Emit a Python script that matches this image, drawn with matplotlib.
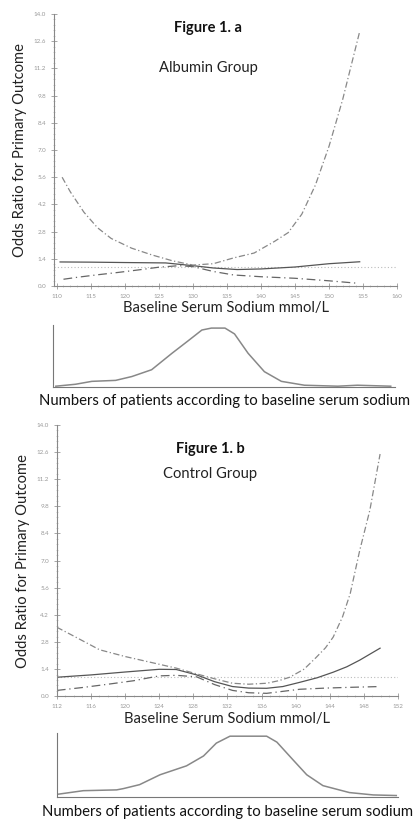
import numpy as np
import matplotlib.pyplot as plt
from matplotlib.ticker import MultipleLocator

plt.rcParams['font.family'] = ['Lato', 'DejaVu Sans']

# Figure 1a - albumin group (odds ratio with confidence limits)
alb_x = [110.5, 115, 120, 126, 130, 133, 136.5, 140, 145, 150, 154.5]
alb_or = [1.24, 1.23, 1.21, 1.19, 1.05, 0.93, 0.85, 0.88, 0.98, 1.15, 1.25]
alb_up_x = [110.8, 112, 114, 116, 118, 121, 124, 127, 130, 133, 136, 139,
            142, 144, 146, 148, 150, 152, 153.5, 154.5]
alb_up = [5.6, 4.85, 3.8, 3.0, 2.45, 1.95, 1.6, 1.3, 1.08, 1.15, 1.45, 1.7,
          2.3, 2.75, 3.7, 5.2, 7.2, 9.6, 11.7, 13.1]
alb_lo_x = [111, 113, 116, 119, 122, 125, 128, 130, 133, 136, 140, 145, 150, 154]
alb_lo = [0.35, 0.45, 0.58, 0.7, 0.83, 0.97, 1.05, 1.0, 0.75, 0.57, 0.48, 0.4, 0.27, 0.15]

# patients distribution, albumin group (relative counts)
alb_hist_x = [110.0, 112.9, 115.3, 118.8, 121.2, 124.1, 127.1, 129.5, 131.5,
              132.9, 134.9, 136.3, 138.3, 140.7, 143.2, 146.6, 151.5, 154.4, 159.3]
alb_hist = [0, 2, 5, 6, 10, 17, 34, 47, 58, 60, 60, 54, 34, 15, 5, 1, 0, 1, 0]

# Figure 1b - control group
ctl_x = [112, 116, 120, 124, 126, 128.4, 130.5, 132.6, 134.5, 136.6, 138.5,
         140.5, 142.5, 144.4, 146, 147.5, 149.9]
ctl_or = [0.98, 1.1, 1.25, 1.39, 1.38, 1.1, 0.75, 0.5, 0.42, 0.41, 0.5,
          0.72, 0.95, 1.24, 1.52, 1.86, 2.48]
ctl_up_x = [112, 114, 117, 120, 123, 126, 128, 130.5, 132.6, 134.5, 136.6, 138,
            139.3, 141, 142.4, 143.5, 144.4, 145.5, 146.4, 147.5, 148.7, 149.9]
ctl_up = [3.56, 3.1, 2.4, 2.05, 1.75, 1.45, 1.2, 0.9, 0.67, 0.62, 0.67, 0.8,
          0.98, 1.4, 2.0, 2.5, 3.05, 4.1, 5.3, 7.5, 9.6, 12.5]
ctl_lo_x = [112, 115, 118, 121, 124, 126, 128.4, 130.5, 132.6, 134.5, 136.6,
            140.5, 143.5, 146.4, 149.9]
ctl_lo = [0.3, 0.45, 0.62, 0.8, 1.05, 1.08, 1.0, 0.6, 0.3, 0.18, 0.15,
          0.36, 0.42, 0.46, 0.5]

ctl_hist_x = [112.2, 115.1, 119.0, 119.8, 121.7, 124.1, 127.2, 129.2, 130.7,
              132.3, 136.6, 137.8, 139.7, 141.3, 143.2, 146.3, 149.1, 151.8]
ctl_hist = [1.4, 4.9, 5.7, 7, 11, 21, 30, 40, 53, 60, 60, 54, 36, 21, 10, 3, 0.6, 0]

y_ticks = [0.0, 1.4, 2.8, 4.2, 5.6, 7.0, 8.4, 9.8, 11.2, 12.6, 14.0]

fig = plt.figure(figsize=(4.15, 8.22), dpi=100)


def or_panel(rect, xs, ors, ux, up, lx, lo, xlim, ticks, title, group, gy):
    ax = fig.add_axes(rect)
    ax.axhline(1.0, color='#bbbbbb', lw=0.8, ls=(0, (1, 2)))
    ax.plot(xs, ors, color='#555555', lw=0.9)
    ax.plot(ux, up, color='#888888', lw=0.9, ls=(0, (5, 2, 1, 2)))
    ax.plot(lx, lo, color='#666666', lw=0.9, ls=(0, (7, 3, 1, 3)))
    ax.set_xlim(*xlim)
    ax.set_ylim(0, 14)
    ax.set_yticks(y_ticks)
    ax.set_yticklabels([f'{v:.1f}' for v in y_ticks])
    ax.set_xticks(ticks)
    ax.xaxis.set_minor_locator(MultipleLocator(1))
    ax.yaxis.set_minor_locator(MultipleLocator(0.28))
    for s in ['top', 'right']:
        ax.spines[s].set_visible(False)
    for s in ['left', 'bottom']:
        ax.spines[s].set_color('#888888')
        ax.spines[s].set_linewidth(0.8)
    ax.tick_params(which='major', direction='inout', length=4, width=0.6,
                   colors='#999999', labelsize=4.5, labelcolor='#999999')
    ax.tick_params(which='minor', direction='inout', length=2, width=0.4,
                   colors='#aaaaaa')
    ax.set_ylabel('Odds Ratio for Primary Outcome', fontsize=10.6, color='#222222', labelpad=5)
    ax.set_xlabel('Baseline Serum Sodium mmol/L', fontsize=10.6, color='#222222', labelpad=2)
    ax.text(0.45, gy[0], title, transform=ax.transAxes, ha='center', va='center',
            fontsize=10.5, fontweight='bold', color='#111111')
    ax.text(0.45, gy[1], group, transform=ax.transAxes, ha='center', va='center',
            fontsize=10.6, color='#222222')
    return ax


def hist_panel(rect, hx, hv, xlim, pad):
    ax = fig.add_axes(rect)
    ax.plot(hx, hv, color='#888888', lw=1.1)
    ax.set_xlim(*xlim)
    ax.set_ylim(-1, 63)
    ax.set_xticks([])
    ax.set_yticks([])
    for s in ['top', 'right']:
        ax.spines[s].set_visible(False)
    for s in ['left', 'bottom']:
        ax.spines[s].set_color('#777777')
        ax.spines[s].set_linewidth(0.8)
    ax.set_xlabel('Numbers of patients according to baseline serum sodium',
                  fontsize=10.7, color='#111111', labelpad=pad)
    return ax


or_panel([0.130, 0.652, 0.827, 0.331], alb_x, alb_or, alb_up_x, alb_up,
         alb_lo_x, alb_lo, (109.6, 160), np.arange(110, 161, 5),
         'Figure 1. a', 'Albumin Group', (0.95, 0.80))
hist_panel([0.128, 0.529, 0.825, 0.0754], alb_hist_x, alb_hist, (109.6, 160), 5)

or_panel([0.137, 0.153, 0.822, 0.330], ctl_x, ctl_or, ctl_up_x, ctl_up,
         ctl_lo_x, ctl_lo, (112, 152), np.arange(112, 153, 4),
         'Figure 1. b', 'Control Group', (0.91, 0.82))
hist_panel([0.137, 0.031, 0.822, 0.077], ctl_hist_x, ctl_hist, (112, 152), 6)

fig.savefig('out.png', dpi=100)
